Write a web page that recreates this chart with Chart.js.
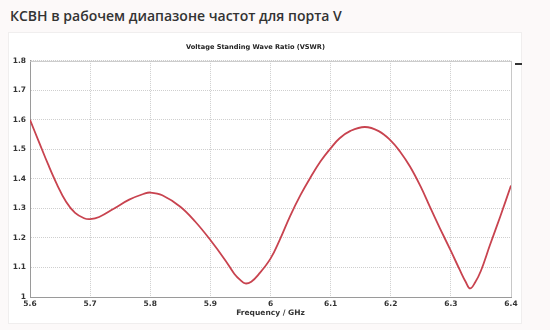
<!DOCTYPE html>
<html>
<head>
<meta charset="utf-8">
<script src="https://cdn.jsdelivr.net/npm/chart.js@4/dist/chart.umd.min.js"></script>
<style>
    html, body { margin: 0; padding: 0; background: #fcf9f9; }
    #wrap { position: relative; width: 550px; height: 330px; overflow: hidden; }
    #heading {
        position: absolute; left: 10px; top: 6px; margin: 0;
        font: 600 14px "Open Sans", sans-serif; color: #333;
    }
    #panel {
        position: absolute; left: 8px; top: 32px; width: 512px; height: 290px;
        background: #fff; border: 1px solid #f0eeee;
    }
    #mark { position: absolute; left: 515px; top: 63px; width: 7px; height: 2px; background: #333; }
    canvas { position: absolute; left: 0; top: 0; }
</style>
</head>
<body>
<div id="wrap">
    <div id="panel"></div>
    <h1 id="heading">КСВН в рабочем диапазоне частот для порта V</h1>
    <canvas id="vswr-chart" width="550" height="330"></canvas>
    <div id="mark"></div>
</div>
<script>
// Data
const freqGHz = [5.600, 5.615, 5.630, 5.645, 5.660, 5.675, 5.690, 5.700, 5.715, 5.740,
    5.765, 5.790, 5.800, 5.820, 5.850, 5.875, 5.900, 5.925, 5.940, 5.950,
    5.958, 5.968, 5.980, 6.000, 6.015, 6.033, 6.050, 6.065, 6.083, 6.100,
    6.115, 6.133, 6.157, 6.180, 6.200, 6.215, 6.232, 6.250, 6.265, 6.282,
    6.300, 6.315, 6.325, 6.332, 6.340, 6.350, 6.365, 6.382, 6.400];
const vswr = [1.600, 1.525, 1.450, 1.381, 1.323, 1.285, 1.267, 1.264, 1.271, 1.300,
    1.330, 1.350, 1.354, 1.345, 1.306, 1.255, 1.193, 1.124, 1.078, 1.057,
    1.046, 1.052, 1.076, 1.130, 1.192, 1.276, 1.346, 1.400, 1.459, 1.504,
    1.538, 1.563, 1.576, 1.562, 1.530, 1.494, 1.442, 1.373, 1.306, 1.232,
    1.156, 1.091, 1.050, 1.029, 1.048, 1.089, 1.176, 1.272, 1.378];
const xTicks = [5.6, 5.7, 5.8, 5.9, 6.0, 6.1, 6.2, 6.3, 6.4];
const yTicks = [1.0, 1.1, 1.2, 1.3, 1.4, 1.5, 1.6, 1.7, 1.8];

const tickFont = { family: 'DejaVu Sans', size: 7.5, weight: 'bold' };

// outline the plot area (top/right edges are light)
const frame = {
    id: 'frame',
    beforeDatasetsDraw(chart) {
        const { ctx, chartArea: a } = chart;
        ctx.save();
        ctx.strokeStyle = '#c8c8c8';
        ctx.lineWidth = 1;
        ctx.beginPath();
        ctx.moveTo(a.left, a.top + 0.5);
        ctx.lineTo(a.right + 0.5, a.top + 0.5);
        ctx.lineTo(a.right + 0.5, a.bottom);
        ctx.stroke();
        ctx.restore();
    }
};

new Chart(document.getElementById('vswr-chart'), {
    type: 'line',
    data: {
        datasets: [{
            data: freqGHz.map((f, i) => ({ x: f, y: vswr[i] })),
            borderColor: '#c8434f',
            borderWidth: 1.8,
            pointRadius: 0,
            tension: 0.4
        }]
    },
    options: {
        responsive: false,
        animation: false,
        layout: { padding: { top: 43, left: 0, right: 39, bottom: 10 } },
        plugins: {
            legend: { display: false },
            tooltip: { enabled: false },
            title: {
                display: true,
                text: 'Voltage Standing Wave Ratio (VSWR)',
                color: '#222',
                font: { family: 'DejaVu Sans', size: 6.6, weight: 'bold' },
                padding: { top: 0, bottom: 10 }
            }
        },
        scales: {
            x: {
                type: 'linear',
                min: 5.6,
                max: 6.4,
                afterBuildTicks: s => { s.ticks = xTicks.map(v => ({ value: v })); },
                afterFit: s => { s.height = 23; },
                ticks: {
                    color: '#333',
                    font: tickFont,
                    padding: 3,
                    maxRotation: 0,
                    callback: v => String(Number(v.toFixed(1)))
                },
                grid: { color: '#cfcfcf', drawTicks: false },
                border: { color: '#9a9a9a', width: 1, dash: [1, 1] },
                title: {
                    display: true,
                    text: 'Frequency / GHz',
                    color: '#333',
                    font: tickFont,
                    padding: { top: 0, bottom: 2 }
                }
            },
            y: {
                min: 1,
                max: 1.8,
                afterBuildTicks: s => { s.ticks = yTicks.map(v => ({ value: v })); },
                afterFit: s => { s.width = 30; },
                ticks: {
                    color: '#333',
                    font: tickFont,
                    padding: 4,
                    callback: v => String(Number(v.toFixed(1)))
                },
                grid: { color: '#cfcfcf', drawTicks: false },
                border: { color: '#9a9a9a', width: 1, dash: [1, 1] }
            }
        }
    },
    plugins: [frame]
});
</script>
</body>
</html>
